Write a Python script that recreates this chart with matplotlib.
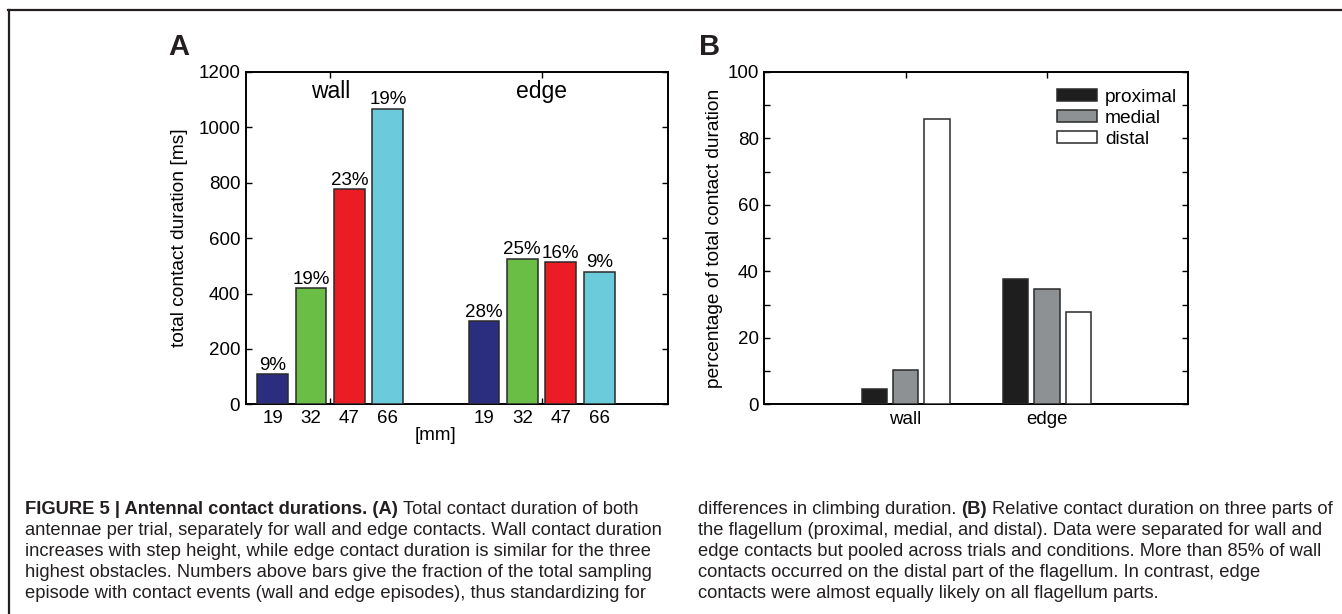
import matplotlib
matplotlib.use("Agg")
import matplotlib.pyplot as plt
import numpy as np

# ---------------- data ----------------
heights_mm = ["19", "32", "47", "66"]
groups_a = ["wall", "edge"]
wall_duration = [108, 420, 777, 1068]
edge_duration = [300, 526, 514, 479]
wall_pct_labels = ["9%", "19%", "23%", "19%"]
edge_pct_labels = ["28%", "25%", "16%", "9%"]
colors_a = ["#2b2e7e", "#6abd45", "#ec1c24", "#6ccbdb"]

parts = ["proximal", "medial", "distal"]
groups_b = ["wall", "edge"]
proximal_pct = [4.7, 37.8]
medial_pct = [10.3, 34.8]
distal_pct = [85.8, 27.8]
colors_b = ["#1e1e1e", "#8e9194", "#ffffff"]

caption_left = [
    [("FIGURE 5 | Antennal contact durations. (A)", "bold"), ("Total contact duration of both", "normal")],
    [("antennae per trial, separately for wall and edge contacts. Wall contact duration", "normal")],
    [("increases with step height, while edge contact duration is similar for the three", "normal")],
    [("highest obstacles. Numbers above bars give the fraction of the total sampling", "normal")],
    [("episode with contact events (wall and edge episodes), thus standardizing for", "normal")],
]
caption_right = [
    [("differences in climbing duration.", "normal"), ("(B)", "bold"), ("Relative contact duration on three parts of", "normal")],
    [("the flagellum (proximal, medial, and distal). Data were separated for wall and", "normal")],
    [("edge contacts but pooled across trials and conditions. More than 85% of wall", "normal")],
    [("contacts occurred on the distal part of the flagellum. In contrast, edge", "normal")],
    [("contacts were almost equally likely on all flagellum parts.", "normal")],
]

# ---------------- setup ----------------
W, H = 1342, 614
plt.rcParams["font.family"] = ["Liberation Sans", "DejaVu Sans"]
fig = plt.figure(figsize=(W / 100, H / 100), dpi=100)
fig.patch.set_facecolor("white")

TXT = "#231f20"
FS = 13.5
FSL = 13.8


def px_axes(left, top, right, bottom):
    return fig.add_axes([left / W, 1 - bottom / H, (right - left) / W, (bottom - top) / H])


def style_axes(ax):
    for s in ax.spines.values():
        s.set_linewidth(1.4)
        s.set_color("black")
    ax.tick_params(which="major", direction="in", length=4, width=1.0,
                   top=True, right=True, labelsize=FS, colors="black")


# ---------------- panel A ----------------
axA = px_axes(245.7, 72, 668.3, 404.3)
style_axes(axA)
x_groups = np.arange(1, len(groups_a) + 1)
nA = len(heights_mm)
dA = min(0.8, nA / (nA + 1.5)) / nA
offsA = (np.arange(nA) - (nA - 1) / 2) * dA
bar_pos_a = []
bar_lab_a = []
for i in range(nA):
    vals = [wall_duration[i], edge_duration[i]]
    pos = x_groups + offsA[i]
    axA.bar(pos, vals, width=0.8 * dA, color=colors_a[i],
            edgecolor="#2a2a2a", linewidth=1.1, zorder=3)
    for p, v, lab in zip(pos, vals, [wall_pct_labels[i], edge_pct_labels[i]]):
        axA.annotate(lab, (p, v), xytext=(0, 3), textcoords="offset points",
                     ha="center", va="baseline", fontsize=FS, color="black")
    bar_pos_a.extend(pos)
    bar_lab_a.extend([heights_mm[i]] * 2)
axA.set_xlim(0.6, 2.6)
axA.set_ylim(0, 1200)
axA.set_yticks(np.arange(0, 1201, 200))
axA.set_xticks(x_groups)
axA.set_xticklabels([])
axA.set_xticks(bar_pos_a, bar_lab_a, minor=True)
axA.tick_params(which="minor", length=0, pad=4, labelsize=FS)
axA.tick_params(axis="y", pad=4)
for gx, g in zip(x_groups, groups_a):
    axA.text(gx, 1128, g, ha="center", va="center", fontsize=16.5, color="black")
axA.set_xlabel("[mm]", fontsize=FS, va="top")
axA.xaxis.set_label_coords(0.45, -0.068)
axA.set_ylabel("total contact duration [ms]", fontsize=FSL, va="center")
axA.yaxis.set_label_coords(-0.1555, 0.5)

# ---------------- panel B ----------------
axB = px_axes(764.3, 72, 1188.3, 404.3)
style_axes(axB)
nB = len(parts)
dB = min(0.8, nB / (nB + 1.5)) / nB
offsB = (np.arange(nB) - (nB - 1) / 2) * dB
series_b = [proximal_pct, medial_pct, distal_pct]
handles = []
for i in range(nB):
    b = axB.bar(x_groups + offsB[i], series_b[i], width=0.8 * dB, color=colors_b[i],
                edgecolor="#2a2a2a", linewidth=1.1, zorder=3, label=parts[i])
    handles.append(b)
axB.set_xlim(0, 3)
axB.set_ylim(0, 100)
axB.set_yticks(np.arange(0, 101, 10))
axB.set_yticklabels([str(v) if v % 20 == 0 else "" for v in range(0, 101, 10)])
axB.set_xticks(x_groups, groups_b)
axB.tick_params(axis="x", pad=5)
axB.tick_params(axis="y", pad=4)
axB.set_ylabel("percentage of total contact duration", fontsize=FSL, va="center")
axB.yaxis.set_label_coords(-0.1186, 0.5)
leg = axB.legend(handles=handles, loc="upper left", bbox_to_anchor=(0.69, 0.95),
                 frameon=False, fontsize=FSL, borderpad=0, borderaxespad=0,
                 handlelength=2.1, handleheight=0.65, handletextpad=0.4,
                 labelspacing=0.2)

# ---------------- panel letters ----------------
fig.text(168 / W, 1 - 55 / H, "A", fontsize=21, fontweight="bold", va="baseline", color=TXT)
fig.text(699 / W, 1 - 55 / H, "B", fontsize=21, fontweight="bold", va="baseline", color=TXT)

# ---------------- frame ----------------
fig.add_artist(plt.Line2D([8.5 / W, 8.5 / W], [1 - 10 / H, 0], color=TXT, lw=1.6,
                          transform=fig.transFigure))
fig.add_artist(plt.Line2D([7.8 / W, 1.0], [1 - 10 / H, 1 - 10 / H], color=TXT, lw=1.6,
                          transform=fig.transFigure))

# ---------------- caption ----------------
renderer = fig.canvas.get_renderer()


def text_width(s, size, weight="normal"):
    t = fig.text(0, 0, s, fontsize=size, fontweight=weight)
    w = t.get_window_extent(renderer).width
    t.remove()
    return w


cap_size = 11.0
w_ref = text_width(caption_left[1][0][0], cap_size)
cap_size = cap_size * 637.0 / w_ref
space_w = text_width("a a", cap_size) - text_width("aa", cap_size)

baselines = [514, 535, 556, 577, 598]


def draw_caption(x0, lines):
    for yb, segs in zip(baselines, lines):
        x = x0
        for s, wt in segs:
            t = fig.text(x / W, 1 - yb / H, s, fontsize=cap_size, fontweight=wt,
                         va="baseline", ha="left", color=TXT)
            bb = t.get_window_extent(renderer)
            x = bb.x1 + space_w


draw_caption(25, caption_left)
draw_caption(698, caption_right)

fig.savefig("out.png", dpi=100, facecolor="white")
